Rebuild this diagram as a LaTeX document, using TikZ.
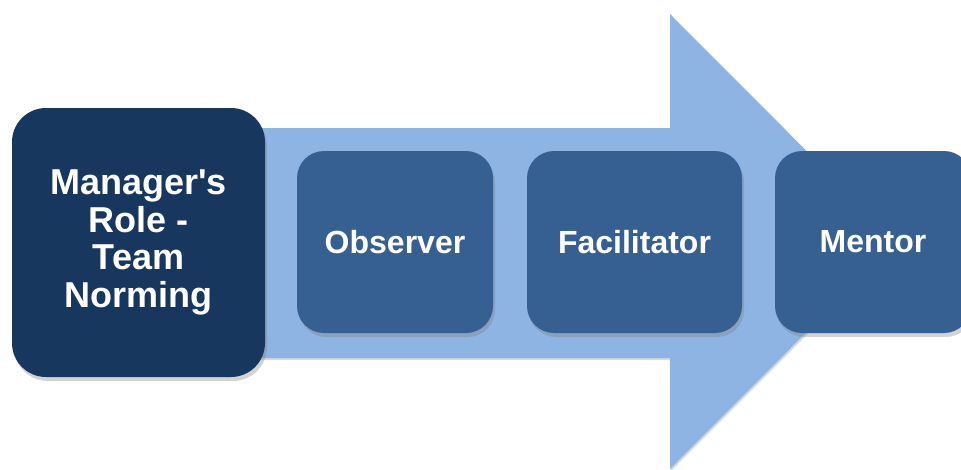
\documentclass[tikz,border=0pt]{standalone}
\usepackage{fontspec}
\setmainfont{Liberation Sans}
\usepackage{tikz}
\usetikzlibrary{shadows}
\definecolor{navy}{HTML}{17375E}
\definecolor{steel}{HTML}{366092}
\definecolor{skyarrow}{HTML}{8EB4E3}
\tikzset{
    every node/.style={align=center,},
    role/.style={rectangle,rounded corners=34pt,fill=navy,text=white,
        font=\fontsize{36}{37.5}\selectfont\bfseries,
        drop shadow={shadow xshift=2pt,shadow yshift=-4pt,opacity=.35}},
    stage/.style={rectangle,rounded corners=27pt,fill=steel,text=white,
        font=\fontsize{32}{38}\selectfont\bfseries,minimum height=182pt,
        drop shadow={shadow xshift=2pt,shadow yshift=-4pt,opacity=.35}},
}

\begin{document}
\begin{tikzpicture}[x=1pt,y=-1pt]
                \useasboundingbox (0,0) rectangle (961,469);

                % big arrow behind the boxes
                \fill[skyarrow,drop shadow={shadow xshift=1pt,shadow yshift=-2pt,opacity=.3}]
                    (75,128) -- (670,128) -- (670,14) -- (897,241.5)
                    -- (670,469) -- (670,358) -- (75,358) -- cycle;

                \node[role,minimum width=253pt,minimum height=269pt] (manager) at (138.5,242.5) {Manager\textquotesingle s\\Role -\\Team\\Norming};

                \node[stage,minimum width=196pt] (observer) at (395,242) {Observer};
                \node[stage,minimum width=215pt] (facilitator) at (634.5,242) {Facilitator};
                \node[stage,minimum width=196pt] (mentor) at (873,242) {Mentor};
            \end{tikzpicture}
\end{document}
